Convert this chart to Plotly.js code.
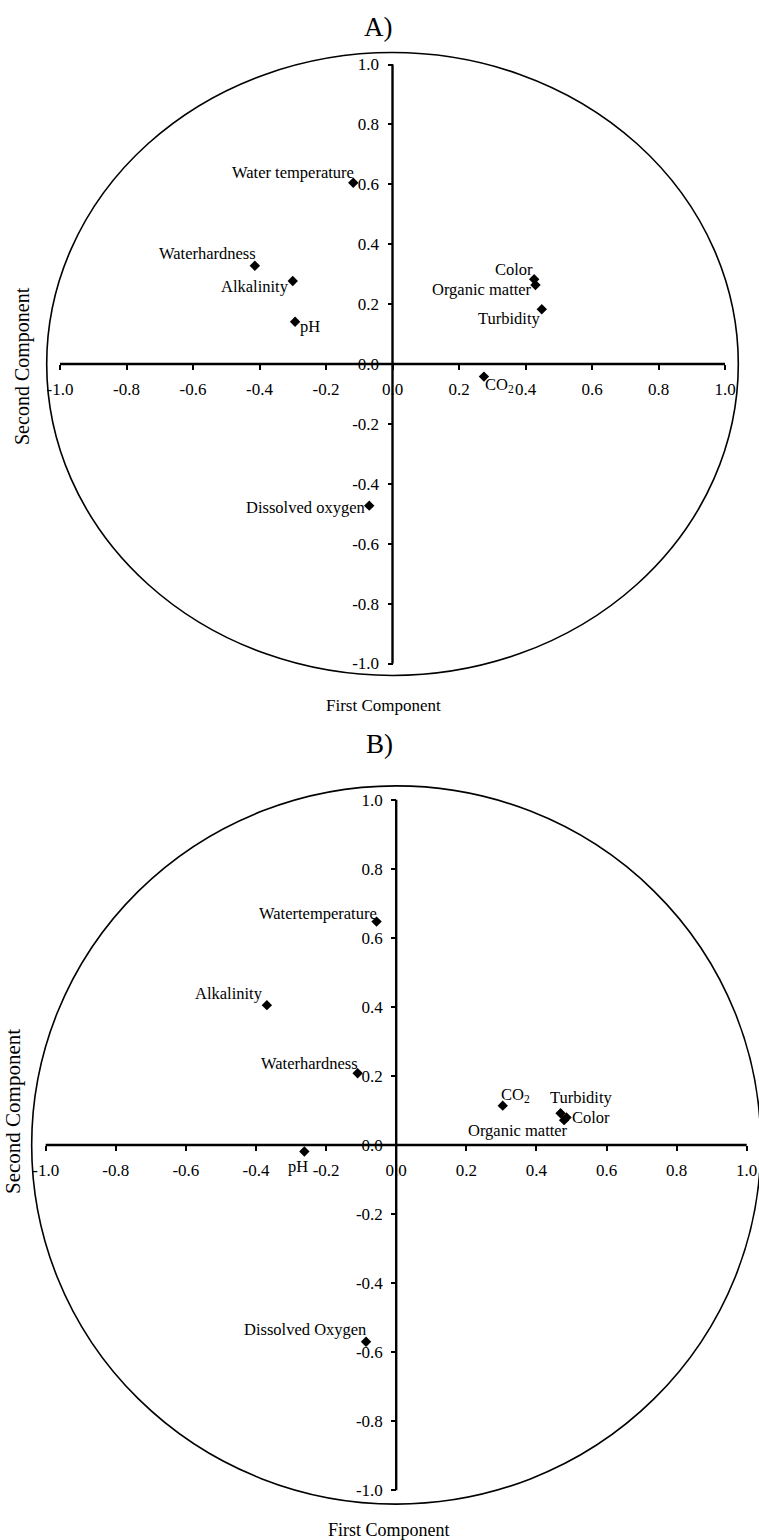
<!DOCTYPE html>
<html>
<head>
<meta charset="utf-8">
<script src="https://cdn.plot.ly/plotly-3.0.1.min.js"></script>
<style>html,body{margin:0;padding:0;background:#fff;}#chart{width:759px;height:1540px;}</style>
</head>
<body>
<div id="chart"></div>
<script>
// ---------- data ----------
const namesA = ['Water temperature','Waterhardness','Alkalinity','pH','Dissolved oxygen','Color','Organic matter','Turbidity','CO<sub>2</sub>'];
const pc1A = [-0.118,-0.414,-0.300,-0.293,-0.070,0.426,0.430,0.449,0.275];
const pc2A = [0.605,0.328,0.277,0.141,-0.473,0.283,0.264,0.183,-0.042];

const namesB = ['Watertemperature','Alkalinity','Waterhardness','pH','Dissolved Oxygen','CO<sub>2</sub>','Turbidity','Color','Organic matter'];
const pc1B = [-0.056,-0.369,-0.110,-0.262,-0.086,0.304,0.469,0.486,0.479];
const pc2B = [0.647,0.405,0.208,-0.019,-0.570,0.114,0.092,0.080,0.072];

const tickVals = [-1,-0.8,-0.6,-0.4,-0.2,0,0.2,0.4,0.6,0.8,1];
const tickText = ['-1.0','-0.8','-0.6','-0.4','-0.2','0.0','0.2','0.4','0.6','0.8','1.0'];

const panelTitles = ['A)','B)'];
const xTitle = 'First Component';
const yTitle = 'Second Component';

// ---------- label placement (style only) ----------
const posA = ['top left','top left','bottom left','bottom right','middle left','top left','middle left','bottom left','bottom right'];
const nudgeA = [[2,0],[2,2],[-3,5],[4,6],[-3,-2],[0,-1],[-2,-5],[-1,1],[0,3]];
const posB = ['top left','top left','top left','bottom left','top left','top right','top right','middle right','bottom left'];
const nudgeB = [[1,-2],[-3,1],[1,-1],[5,-4],[1,2],[-3,0],[-12,5],[4,0],[5,0]];

const W = 759, H = 1540;
const FONT = '"Liberation Serif", "Times New Roman", serif';
const circleR = 1.04;

function geom(cx, ux, pxLo, pxHi, cy, uy, pyLo, pyHi){
  return {
    xrange:[(pxLo-cx)/ux,(pxHi-cx)/ux], xdomain:[pxLo/W, pxHi/W],
    yrange:[(cy-pyHi)/uy,(cy-pyLo)/uy], ydomain:[1-pyHi/H, 1-pyLo/H],
    xpos: cx/W, ypos: 1-cy/H
  };
}
const gA = geom(392.5, 332.5, 30, 748, 364, 299.5, 40, 690);
const gB = geom(396.2, 350.5, 20, 759, 1145, 345.3, 770, 1510);

function axisCommon(){
  return {tickmode:'array', tickvals:tickVals, ticktext:tickText,
    ticks:'outside', ticklen:5, tickwidth:2, tickcolor:'#000',
    ticklabelstandoff:5,
    tickfont:{family:FONT, size:17, color:'#000'},
    showline:false, showgrid:false, zeroline:false, fixedrange:true};
}
function xAxis(g){ return Object.assign(axisCommon(), {domain:g.xdomain, range:g.xrange, anchor:'free', position:g.ypos}); }
function yAxis(g){ return Object.assign(axisCommon(), {domain:g.ydomain, range:g.yrange, anchor:'free', position:g.xpos}); }

function pts(x, y, xa, ya){
  return {type:'scatter', mode:'markers', x:x, y:y, xaxis:xa, yaxis:ya, cliponaxis:false,
    marker:{symbol:'diamond', size:8, color:'#000'}, hoverinfo:'skip', showlegend:false};
}

const data = [ pts(pc1A, pc2A, 'x', 'y'), pts(pc1B, pc2B, 'x2', 'y2') ];

function labels(x, y, names, pos, nudge, xr, yr){
  return names.map((t, i) => {
    const p = pos[i].split(' ');
    const ya = p[0] === 'top' ? 'bottom' : (p[0] === 'bottom' ? 'top' : 'middle');
    const xa = p[1] === 'left' ? 'right' : (p[1] === 'right' ? 'left' : 'center');
    return {text:t, xref:xr, yref:yr, x:x[i], y:y[i], xanchor:xa, yanchor:ya,
      xshift:nudge[i][0], yshift:nudge[i][1], showarrow:false, borderpad:0,
      font:{family:FONT, size:16.5, color:'#000'}};
  });
}

function panelShapes(xr, yr){
  return [
    {type:'circle', xref:xr, yref:yr, x0:-circleR, x1:circleR, y0:-circleR, y1:circleR, line:{color:'#000', width:1.6}, layer:'below'},
    {type:'line', xref:xr, yref:yr, x0:-1, x1:1, y0:0, y1:0, line:{color:'#000', width:2.4}},
    {type:'line', xref:xr, yref:yr, x0:0, x1:0, y0:-1, y1:1, line:{color:'#000', width:2.4}}
  ];
}

function ann(text, px, py, size, angle){
  return {text:text, xref:'paper', yref:'paper', x:px/W, y:1-py/H, xanchor:'center', yanchor:'middle',
    showarrow:false, textangle:angle||0, font:{family:FONT, size:size, color:'#000'}};
}

const layout = {
  width:W, height:H, margin:{l:0,r:0,t:0,b:0},
  paper_bgcolor:'#fff', plot_bgcolor:'rgba(0,0,0,0)',
  xaxis:xAxis(gA), yaxis:yAxis(gA),
  xaxis2:xAxis(gB), yaxis2:yAxis(gB),
  shapes:[].concat(panelShapes('x','y'), panelShapes('x2','y2')),
  annotations:[].concat(
    labels(pc1A, pc2A, namesA, posA, nudgeA, 'x', 'y'),
    labels(pc1B, pc2B, namesB, posB, nudgeB, 'x2', 'y2'),
    [
      ann(panelTitles[0], 378, 27, 27),
      ann(panelTitles[1], 379, 744, 27),
      ann(xTitle, 383, 705, 17),
      ann(xTitle, 389, 1530, 18),
      ann(yTitle, 22, 366, 20, -90),
      ann(yTitle, 13, 1112, 21, -90)
    ])
};

Plotly.newPlot('chart', data, layout, {displayModeBar:false, staticPlot:true});
</script>
</body>
</html>
